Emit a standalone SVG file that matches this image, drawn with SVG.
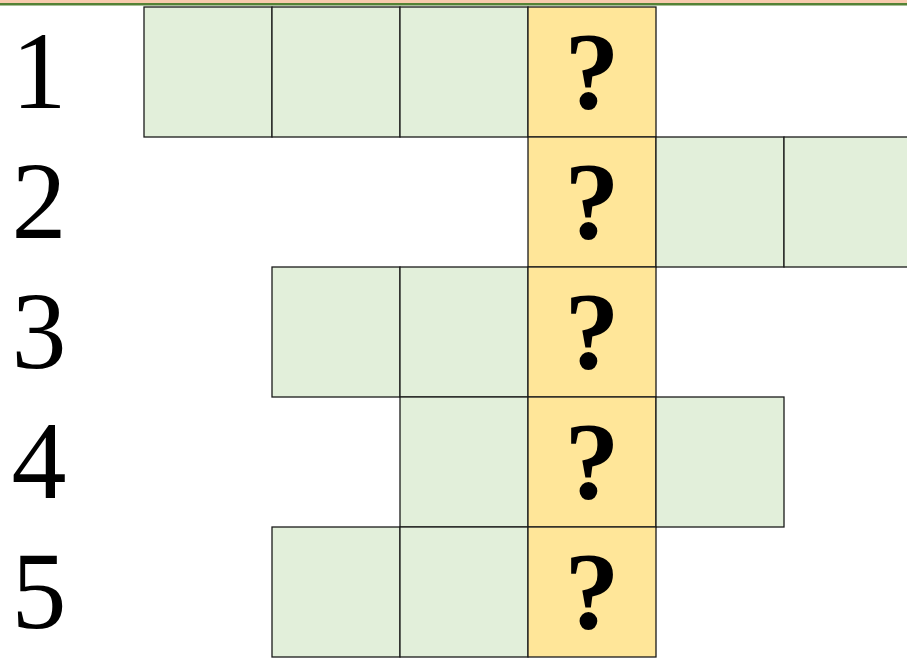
<svg xmlns="http://www.w3.org/2000/svg" width="907" height="659" viewBox="0 0 907 659">
<style>
.g{fill:#E2EFDA;stroke:#1a1a1a;stroke-width:1.3}
.y{fill:#FFE699;stroke:#1a1a1a;stroke-width:1.3}
.n{font-family:"Liberation Serif","DejaVu Serif",serif;font-size:110px;fill:#000;text-anchor:middle}
.q{font-family:"Liberation Serif","DejaVu Serif",serif;font-size:110px;font-weight:bold;fill:#000;text-anchor:middle}
</style>
<rect x="0" y="0" width="907" height="659" fill="#fff"/>
<rect x="0" y="0" width="907" height="3" fill="#F8CBAD"/>
<rect x="0" y="3" width="907" height="2.5" fill="#548235"/>
<g id="row1">
<rect class="g" x="144" y="7" width="128" height="130"/>
<rect class="g" x="272" y="7" width="128" height="130"/>
<rect class="g" x="400" y="7" width="128" height="130"/>
<rect class="y" x="528" y="7" width="128" height="130"/>
<text class="n" x="39" y="108">1</text>
<text class="q" x="592" y="108">?</text>
</g>
<g id="row2">
<rect class="y" x="528" y="137" width="128" height="130"/>
<rect class="g" x="656" y="137" width="128" height="130"/>
<rect class="g" x="784" y="137" width="140" height="130"/>
<text class="n" x="39" y="238">2</text>
<text class="q" x="592" y="238">?</text>
</g>
<g id="row3">
<rect class="g" x="272" y="267" width="128" height="130"/>
<rect class="g" x="400" y="267" width="128" height="130"/>
<rect class="y" x="528" y="267" width="128" height="130"/>
<text class="n" x="39" y="368">3</text>
<text class="q" x="592" y="368">?</text>
</g>
<g id="row4">
<rect class="g" x="400" y="397" width="128" height="130"/>
<rect class="y" x="528" y="397" width="128" height="130"/>
<rect class="g" x="656" y="397" width="128" height="130"/>
<text class="n" x="39" y="498">4</text>
<text class="q" x="592" y="498">?</text>
</g>
<g id="row5">
<rect class="g" x="272" y="527" width="128" height="130"/>
<rect class="g" x="400" y="527" width="128" height="130"/>
<rect class="y" x="528" y="527" width="128" height="130"/>
<text class="n" x="39" y="628">5</text>
<text class="q" x="592" y="628">?</text>
</g>
<g id="connectors"></g>
</svg>
